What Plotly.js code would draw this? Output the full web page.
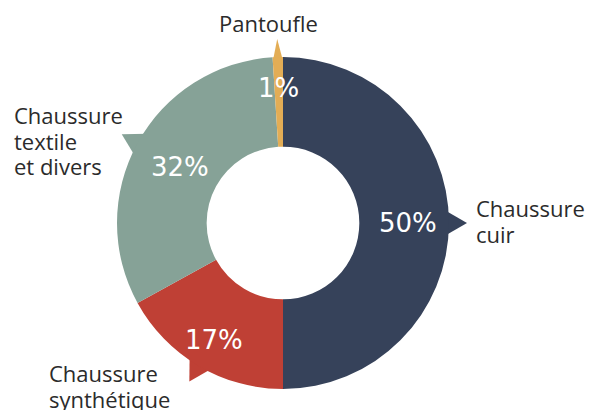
<!DOCTYPE html>
<html>
<head>
<meta charset="utf-8">
<script src="https://cdn.plot.ly/plotly-3.0.1.min.js"></script>
<style>html,body{margin:0;padding:0;background:#fff;}#chart{width:589px;height:410px;}</style>
</head>
<body>
<div id="chart"></div>
<script>
// Data
const categories = ["Chaussure cuir", "Chaussure synthétique", "Chaussure textile et divers", "Pantoufle"];
const values = [50, 17, 32, 1];
const labelLines = [["Chaussure", "cuir"], ["Chaussure", "synthétique"], ["Chaussure", "textile", "et divers"], ["Pantoufle"]];

// Styles / layout
const colors = ["#36425a", "#bf4035", "#86a297", "#e3ad55"];
const W = 589, H = 410;
const margin = {l: 117, r: 140, t: 57, b: 21};
const plotSize = 332;           // px, square plot area
const R = plotSize / 2;         // outer radius in px
const hole = 0.46;
const pctRadius = [125, 136, 117, 135];   // px from centre for percentage text
const pctFont = 26;
const labelFont = 22;
const lineGap = 25.5;
const labelAnchor = [            // px: left (or centre) x and first baseline y
  {x: 474, y: 218, xa: "left"},
  {x: 47, y: 383, xa: "left"},
  {x: 12, y: 125, xa: "left"},
  {x: 268, y: 33, xa: "center"}
];

const total = values.reduce((a, b) => a + b, 0);
function pt(angleDeg, rPx) {
  const a = angleDeg * Math.PI / 180;
  return [0.5 + rPx * Math.sin(a) / plotSize, 0.5 + rPx * Math.cos(a) / plotSize];
}
const px2x = x => (x - margin.l) / plotSize;
const px2y = y => (H - margin.b - y) / plotSize;

const shapes = [];
const annotations = [];
let cum = 0;
values.forEach((v, i) => {
  const start = cum / total * 360;
  const span = v / total * 360;
  const mid = start + span / 2;
  cum += v;
  const halfBase = Math.min(4.6, span / 2);
  const p1 = pt(mid - halfBase, R - 4);
  const p2 = pt(mid + halfBase, R - 4);
  const tip = pt(mid, R + 18);
  shapes.push({
    type: "path", xref: "paper", yref: "paper", layer: "below",
    path: `M ${p1[0]} ${p1[1]} L ${tip[0]} ${tip[1]} L ${p2[0]} ${p2[1]} Z`,
    fillcolor: colors[i], line: {width: 0}
  });
  const c = pt(mid, pctRadius[i]);
  annotations.push({
    xref: "paper", yref: "paper", x: c[0], y: c[1], xanchor: "center", yanchor: "middle",
    text: v + "%", showarrow: false,
    font: {family: "DejaVu Sans", size: pctFont, color: "#ffffff"}
  });
  labelLines[i].forEach((line, k) => {
    const base = labelAnchor[i].y + k * lineGap;
    annotations.push({
      xref: "paper", yref: "paper",
      x: px2x(labelAnchor[i].x), y: px2y(base - 0.45 * labelFont),
      xanchor: labelAnchor[i].xa, yanchor: "middle", align: "left",
      text: line, showarrow: false,
      font: {family: "Open Sans", size: labelFont, color: "#2b2b2b"}
    });
  });
});

const trace = {
  type: "pie",
  labels: categories,
  values: values,
  sort: false,
  direction: "clockwise",
  rotation: 0,
  hole: hole,
  textinfo: "none",
  hoverinfo: "label+percent",
  marker: {colors: colors, line: {width: 0}},
  showlegend: false
};

const layout = {
  width: W, height: H,
  margin: margin,
  paper_bgcolor: "#ffffff",
  plot_bgcolor: "#ffffff",
  showlegend: false,
  shapes: shapes,
  annotations: annotations
};

Plotly.newPlot("chart", [trace], layout, {displayModeBar: false, staticPlot: true});
</script>
</body>
</html>
